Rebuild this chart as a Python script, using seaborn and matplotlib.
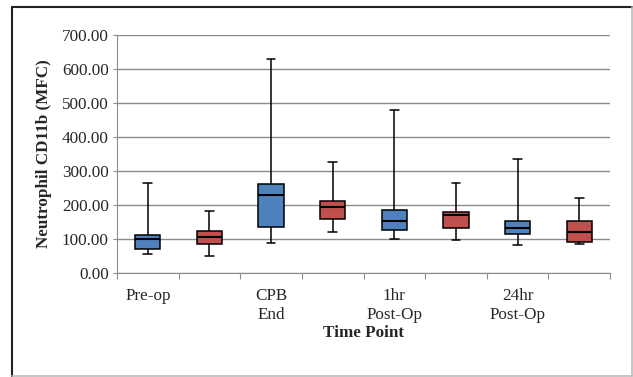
import seaborn as sns
import matplotlib.pyplot as plt
import pandas as pd
from matplotlib.lines import Line2D

# box statistics (one entry per box, left to right)
boxes = ["b1", "b2", "b3", "b4", "b5", "b6", "b7", "b8"]
whisker_low = [56, 49, 88, 120, 101, 98, 82, 85]
q1 = [72, 85, 134, 160, 127, 133, 114, 92]
median = [101, 107, 230, 194, 154, 170, 131, 120]
q3 = [112, 124, 261, 213, 184, 179, 154, 153]
whisker_high = [266, 183, 630, 327, 478, 266, 334, 220]
box_colors = ["#4f81bd", "#c0504d"] * 4
time_labels = ["Pre-op", "CPB\nEnd", "1hr\nPost-Op", "24hr\nPost-Op"]

# five points per box -> quartiles come out exactly, whiskers at min/max
rows = []
for i, b in enumerate(boxes):
    for v in (whisker_low[i], q1[i], median[i], q3[i], whisker_high[i]):
        rows.append({"box": b, "value": v})
df = pd.DataFrame(rows)

sns.set_style("white")
plt.rcParams["font.family"] = ["Liberation Serif", "DejaVu Serif"]

fig = plt.figure(figsize=(6.33, 3.77), dpi=100)
ax = fig.add_axes([117 / 633, 1 - 273 / 377, (610 - 117) / 633, (273 - 35) / 377])

sns.boxplot(data=df, x="box", y="value", hue="box", palette=box_colors,
            saturation=1, legend=False, whis=(0, 100), width=0.41, ax=ax,
            linecolor="black", linewidth=1.1, capwidths=0.14,
            medianprops={"linewidth": 1.5})

fs = 12.3
ax.set_ylim(0, 700)
ax.set_xlim(-0.5, 7.5)
ax.set_yticks(range(0, 701, 100))
ax.set_yticklabels([f"{v:.2f}" for v in range(0, 701, 100)], fontsize=fs)
ax.yaxis.grid(True, color="#8c8c8c", linewidth=1)
ax.set_axisbelow(True)
ax.tick_params(axis="y", length=3, color="#8c8c8c", pad=3, left=True)

ax.set_xticks([i - 0.5 for i in range(9)])
ax.set_xticklabels([])
ax.set_xticks([0, 2, 4, 6], minor=True)
ax.set_xticklabels(time_labels, minor=True, fontsize=fs, linespacing=1.25)
ax.tick_params(axis="x", which="major", length=4, color="#8c8c8c", bottom=True)
ax.tick_params(axis="x", which="minor", length=0, pad=11)

for side in ["top", "right"]:
    ax.spines[side].set_visible(False)
for side in ["left", "bottom"]:
    ax.spines[side].set_color("#8c8c8c")

ax.set_xlabel("Time Point", fontsize=fs, fontweight="bold", labelpad=1)
ax.set_ylabel("Neutrophil CD11b (MFC)", fontsize=fs, fontweight="bold", labelpad=7)

# outer chart frame
W, H = 633, 377
fig.add_artist(Line2D([12 / W, 12 / W], [1 - 7 / H, 0], color="#222222", linewidth=1.5))
fig.add_artist(Line2D([12 / W, 632 / W], [1 - 7 / H, 1 - 7 / H], color="#222222", linewidth=1.5))
fig.add_artist(Line2D([632 / W, 632 / W], [1 - 7 / H, 0.002], color="#bbbbbb", linewidth=1.2))
fig.add_artist(Line2D([12 / W, 632 / W], [0.002, 0.002], color="#bbbbbb", linewidth=1.2))

fig.savefig("out.png", dpi=100)
